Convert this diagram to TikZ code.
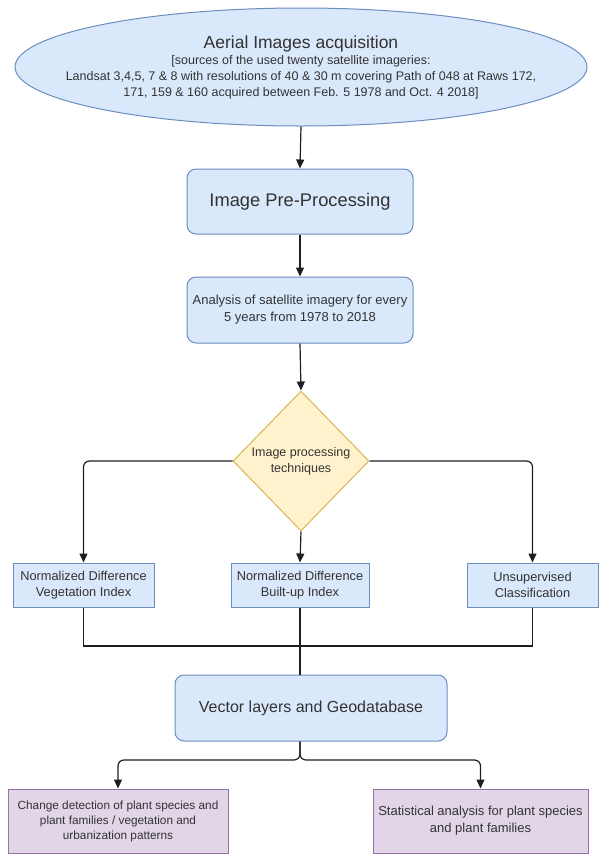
\documentclass[tikz,border=0pt]{standalone}
\usepackage{fontspec}
\setmainfont{Liberation Sans}
\usepackage{tikz}
\usetikzlibrary{arrows.meta,positioning,shapes.geometric}
\usepackage{xcolor}
\definecolor{boxblue}{HTML}{DAE8FC}
\definecolor{lineblue}{HTML}{6C8EBF}
\definecolor{boxyellow}{HTML}{FFF2CC}
\definecolor{lineyellow}{HTML}{D6B656}
\definecolor{boxpurple}{HTML}{E1D5E7}
\definecolor{linepurple}{HTML}{9673A6}
\definecolor{txtgray}{HTML}{333333}

\tikzset{
  base/.style={inner sep=0pt,align=center,text=txtgray,line width=1pt},
  terminal/.style={base,ellipse,fill=boxblue,draw=lineblue},
  procbox/.style={base,rectangle,rounded corners=9pt,fill=boxblue,draw=lineblue},
  indexbox/.style={base,rectangle,fill=boxblue,draw=lineblue},
  decision/.style={base,diamond,fill=boxyellow,draw=lineyellow},
  resultbox/.style={base,rectangle,fill=boxpurple,draw=linepurple},
  link/.style={draw=txtgray!60!black,line width=1.2pt},
}

\begin{document}
\begin{tikzpicture}[x=1pt,y=-1pt,>={Triangle[length=9pt,width=8pt]}]
\useasboundingbox (0,0) rectangle (602,855);

% acquisition
\node[terminal,inner xsep=-50pt,inner ysep=-5pt,minimum width=572,minimum height=118,
      font=\fontsize{12.5}{16}\selectfont] (acq) at (301,67)
  {{\fontsize{17.5}{20}\selectfont Aerial Images acquisition}\\
   {[}sources of the used twenty satellite imageries:\\
   Landsat 3,4,5, 7 \& 8 with resolutions of 40 \& 30 m covering Path of 048 at Raws 172,\\
   171, 159 \& 160 acquired between Feb. 5 1978 and Oct. 4 2018{]}};

% processing chain
\node[procbox,minimum width=226,minimum height=65,font=\fontsize{18.3}{22}\selectfont] (pre) at (300,201.5) {Image Pre-Processing};
\node[procbox,minimum width=226,minimum height=66,font=\fontsize{13}{17}\selectfont] (ana) at (300,310)
  {Analysis of satellite imagery for every\\5 years from 1978 to 2018};
\node[decision,minimum width=136,minimum height=140,font=\fontsize{12.5}{16}\selectfont] (tech) at (301,461)
  {Image processing\\techniques};

% indices
\node[indexbox,minimum width=141,minimum height=44,font=\fontsize{12.8}{16}\selectfont] (ndvi) at (83.5,585)
  {Normalized Difference\\Vegetation Index};
\node[indexbox,minimum width=138,minimum height=44,font=\fontsize{12.8}{16}\selectfont] (ndbi) at (300,585)
  {Normalized Difference\\Built-up Index};
\node[indexbox,minimum width=131,minimum height=44,font=\fontsize{12.8}{16}\selectfont] (unsup) at (532.5,585)
  {Unsupervised\\Classification};

\node[procbox,minimum width=272,minimum height=66,font=\fontsize{16}{20}\selectfont] (geo) at (311,708)
  {Vector layers and Geodatabase};

% results
\node[resultbox,minimum width=220,minimum height=64,font=\fontsize{11.8}{15}\selectfont] (change) at (118,821)
  {Change detection of plant species and\\plant families / vegetation and\\urbanization patterns};
\node[resultbox,minimum width=215,minimum height=64,font=\fontsize{13}{17}\selectfont] (stat) at (480.5,821)
  {Statistical analysis for plant species\\and plant families};

\coordinate (join) at (300,646);
\coordinate (fork) at (300,760);

\draw[link,->] (acq.south) -- (pre.north);
\draw[link,->] (pre.south) -- (ana.north);
\draw[link,->] (ana.south) -- (tech.north);
\draw[link,->,rounded corners=6pt] (tech.west) -| (ndvi.north);
\draw[link,->,rounded corners=6pt] (tech.east) -| (unsup.north);
\draw[link,->] (tech.south) -- (ndbi.north);
\draw[link] (ndvi.south) |- (join) -| (unsup.south);
\draw[link] (ndbi.south) -- (ndbi.south |- geo.north);
\draw[link,->,rounded corners=6pt] (ndbi.south |- geo.south) |- (change.north |- fork) -- (change.north);
\draw[link,->,rounded corners=6pt] (ndbi.south |- geo.south) |- (stat.north |- fork) -- (stat.north);
\end{tikzpicture}
\end{document}
